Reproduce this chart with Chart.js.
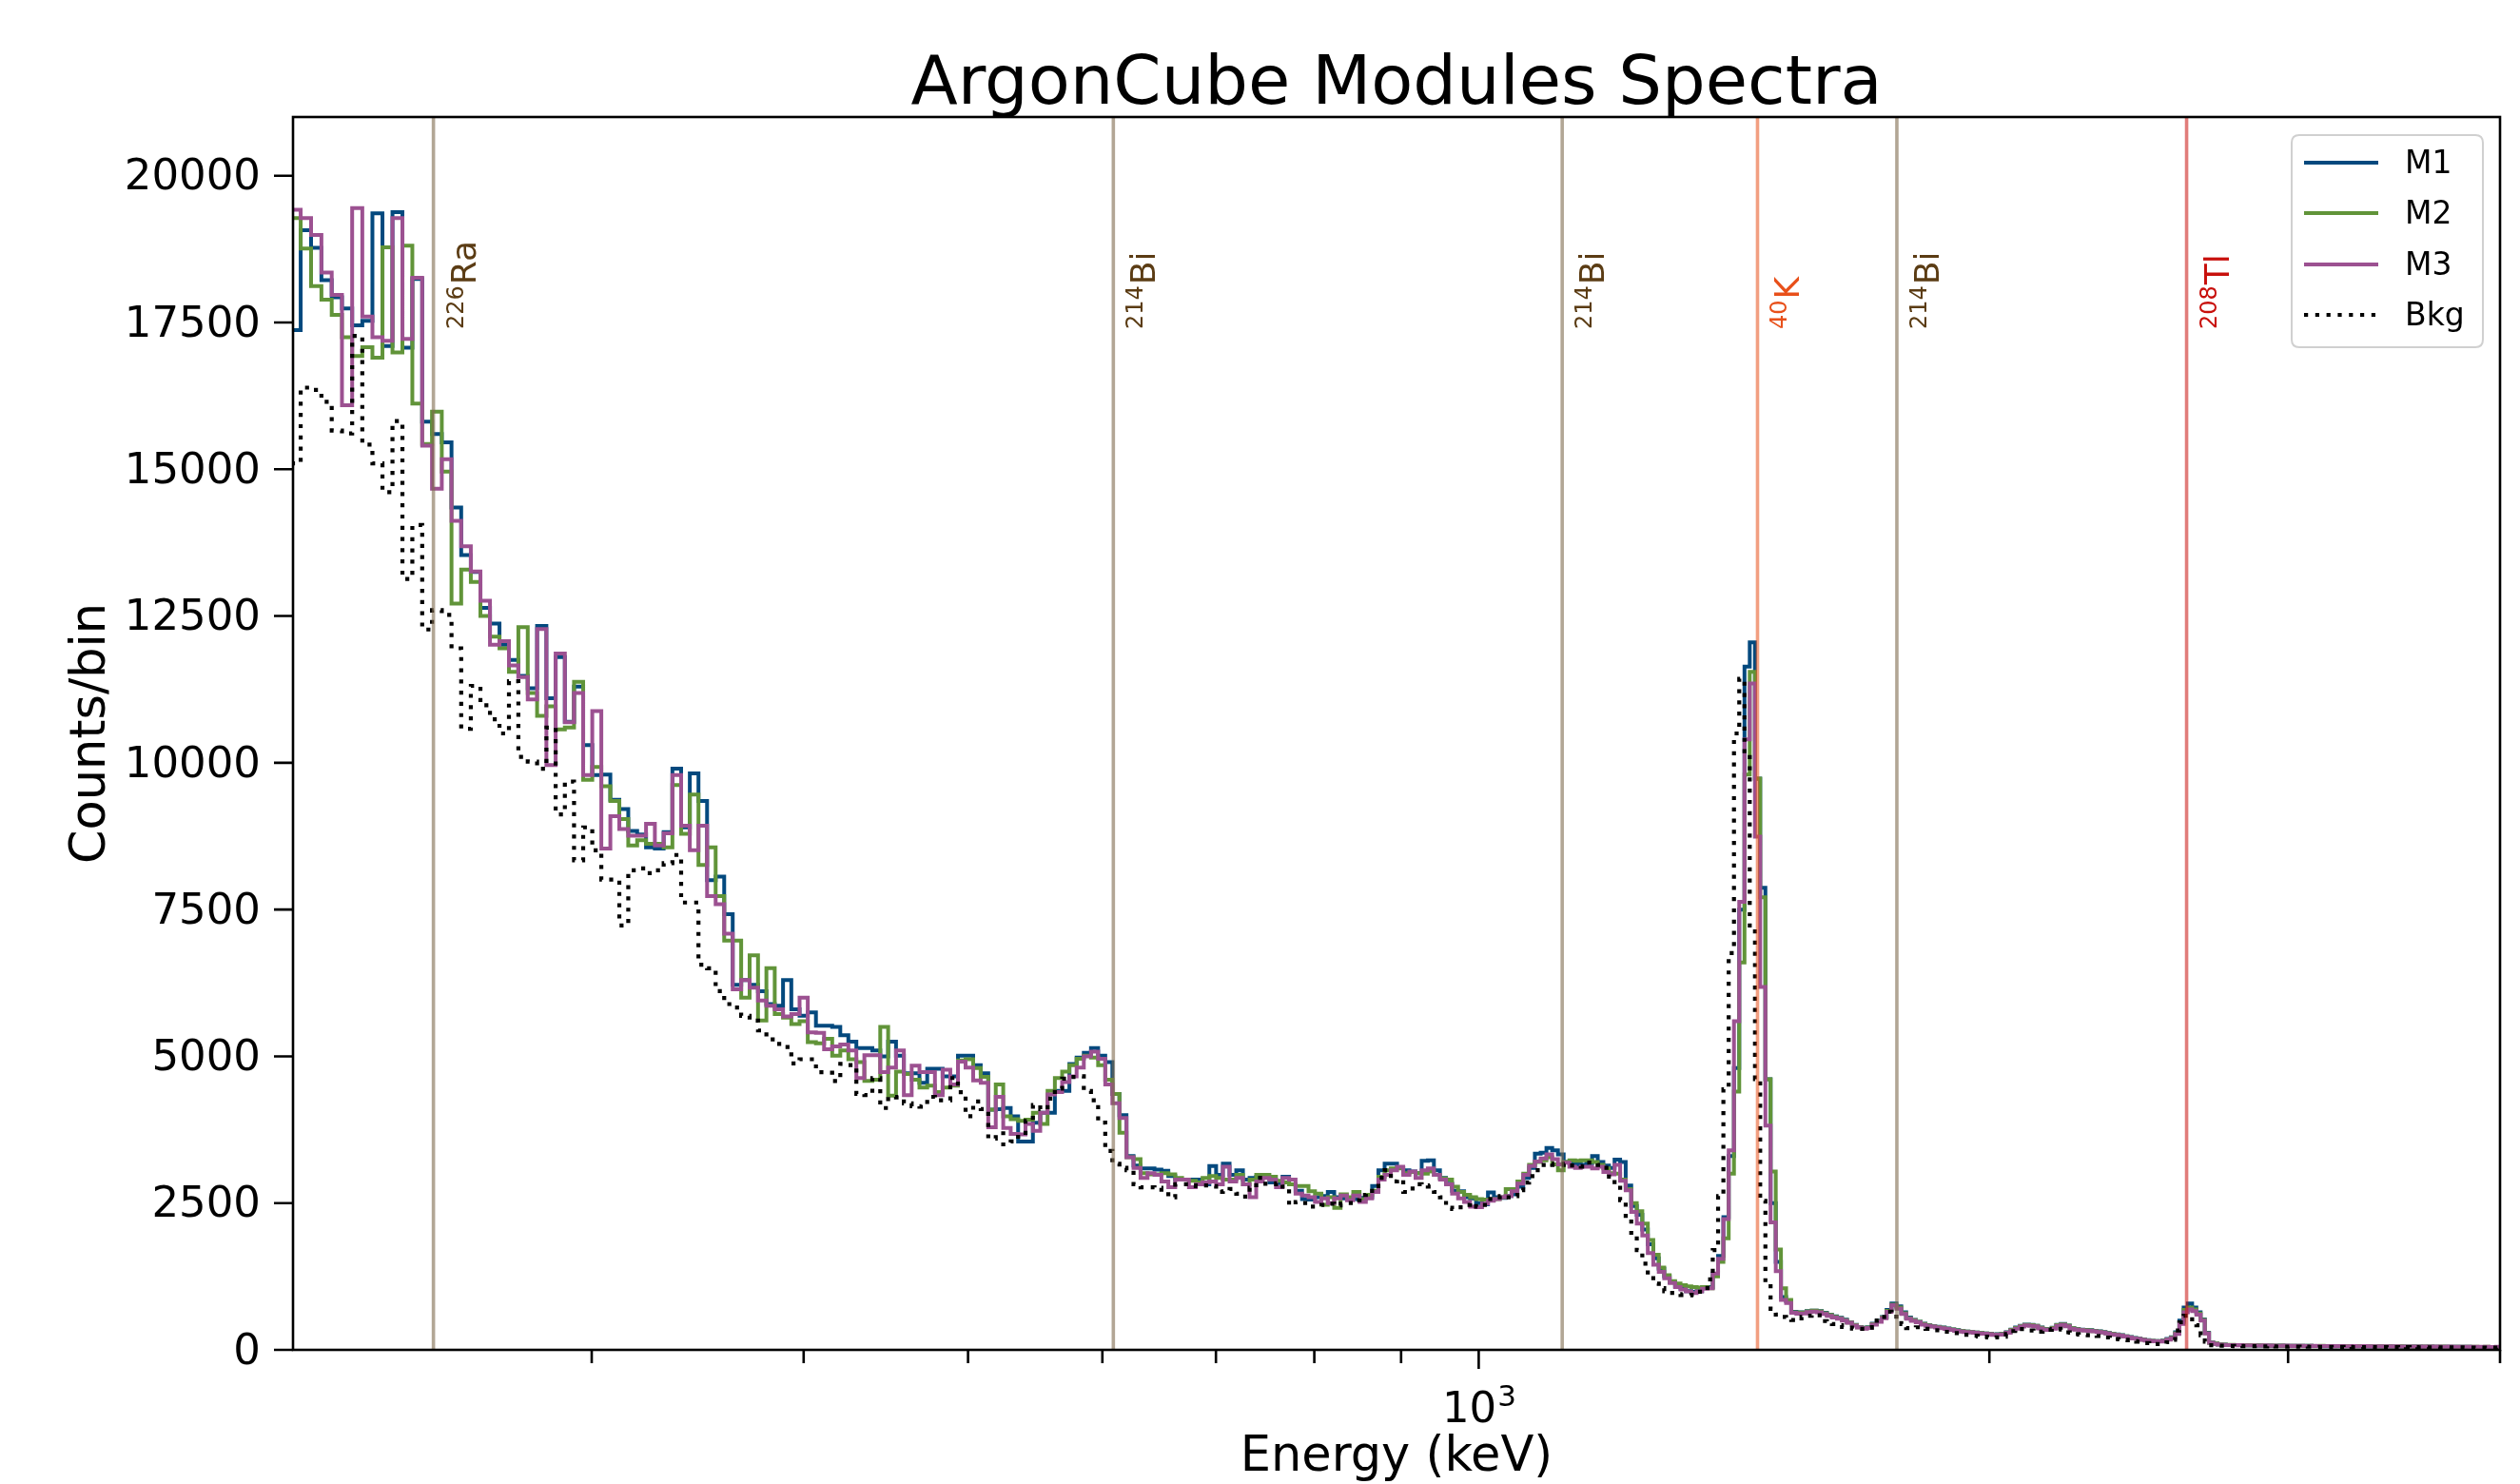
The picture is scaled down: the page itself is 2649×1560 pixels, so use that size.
<!DOCTYPE html>
<html><head><meta charset="utf-8">
<script src="https://cdn.jsdelivr.net/npm/chart.js@4.4.1/dist/chart.umd.min.js"></script>
<style>html,body{margin:0;padding:0;background:#fff;}canvas{display:block;}</style>
</head><body>
<canvas id="c" width="2649" height="1560"></canvas>
<script>
// ---------------- data ----------------
// histogram binning: edges uniform in E^0.35 (keV), as read from the step widths
const binPower = 0.35, binU0 = 6.3795, binDU = 0.031754, nBins = 374;
const xMinKeV = 200, xMaxKeV = 4000;
const yMax = 21000;

const m1Counts = [
19910,17370,19070,18770,18220,17930,17740,17450,17530,19360,17100,19380,17070,18240,15810,15600,15460,14350,13540,13250,12640,12370,12010,11750,11480,
11270,12330,11100,11800,10700,11300,10300,9790,9800,9370,9210,8840,8780,8560,8540,8820,9900,8900,9820,9350,8000,8060,7420,6220,6300,6220,6110,5890,5860,6300,5800,5690,5750,5520,5520,
5500,5360,5250,5140,5140,5100,5000,5250,5010,4710,4710,4550,4790,4790,4660,4660,5010,5010,4850,4710,4090,4100,4120,3980,3550,3550,3870,4040,4040,4410,4410,4870,4980,5060,5140,5010,4900,4360,4000,3300,
3140,3090,3090,3070,3050,2960,2900,2900,2900,2900,2820,3130,2980,3170,2980,3060,2900,2930,2950,2940,2850,2840,2950,2820,2710,2570,2560,2600,2620,2690,2600,2580,2590,2570,2590,2600,2790,3060,3170,3170,3100,3060,3040,3010,3220,3230,3060,2930,2830,2710,2700,2600,2580,2500,2480,
2680,2600,2590,2620,2650,2780,2930,3100,3340,3360,3440,3400,3330,3200,3180,3160,3150,3180,3300,3200,3140,3100,3240,3200,2800,2450,2300,2050,1800,1560,1380,1250,1150,1080,1040,1000,990,1000,1060,
1070,1290,1600,2260,3300,4800,7500,11640,12050,9730,7870,4610,2500,1500,900,830,
650,640,640,660,670,660,630,600,570,545,515,470,425,390,372,385,445,500,560,680,790,740,640,550,510,480,445,420,405,392,380,365,350,335,322,312,305,296,288,280,274,262,268,275,300,345,380,410,430,425,410,380,355,350,375,425,440,415,370,355,345,340,335,325,315,302,288,272,262,250,232,218,202,190,178,165,155,150,146,158,185,215,300,500,720,790,720,640,520,290,125,
105,92,88,83,80,81,79,77,78,75,76,73,72,74,70,69,72,68,67,70,66,68,65,67,63,66,64,62,65,61,63,62,60,64,59,61,60,58,62,57,60,58,56,59,57,55,58,54,56,55,53,56,54,52,55,51,54,52,50,53,51,50,52,49,51,48,50,49,47,50,48,47,49
];
const m2Counts = [
17600,19280,18760,18120,17890,17630,17250,16930,17080,16900,18780,16990,18810,16120,15430,15980,14960,12710,13290,13080,12500,12150,11950,11550,12310,
11190,10800,10960,10570,10600,11380,9710,9930,9600,9350,9040,8590,8680,8620,8620,8560,9620,8790,9460,8260,8560,7730,6970,6970,6000,6720,5610,6500,5720,5660,5550,5600,5240,5220,5300,
5010,5100,4950,4900,4580,4600,5500,4330,4740,4700,4600,4470,4500,4390,4470,4500,4930,4950,4800,4650,4090,4520,3980,3930,3900,3920,4040,3850,4410,4630,4740,4850,4960,5010,4980,4850,4600,4360,3700,3280,
3250,3010,2990,2990,3010,2990,2930,2900,2880,2850,2930,2960,2930,2900,2900,2980,2820,2900,2980,2980,2950,2880,2850,2820,2790,2790,2700,2660,2470,2600,2420,2650,2600,2690,2570,2640,2710,2950,3060,3090,3090,3010,3030,3010,3000,3040,2980,2920,2900,2780,2690,2640,2600,2570,2560,
2560,2570,2600,2740,2740,2870,3000,3150,3200,3230,3280,3160,3060,3200,3230,3220,3230,3230,3200,3150,3090,3010,3000,2900,2740,2500,2360,2150,1870,1620,1400,1270,1170,1130,1100,1080,1070,1060,1070,
1050,1250,1500,1900,3000,4400,6600,9800,11550,9730,7710,4610,3040,1710,1050,850,
640,635,635,655,668,655,625,595,565,540,508,465,420,385,368,380,438,490,552,665,770,720,625,540,505,478,440,418,402,388,376,362,348,332,320,310,302,295,286,279,272,260,265,272,296,340,372,405,425,420,408,376,352,348,372,420,435,412,368,352,342,338,332,322,312,300,285,270,260,247,230,216,200,188,176,163,153,148,144,155,180,208,285,470,680,720,690,620,510,285,122,
110,95,90,86,84,80,82,79,76,79,75,76,73,71,74,70,72,69,70,68,67,70,66,68,65,64,67,63,65,64,62,65,61,63,60,62,64,59,61,60,58,62,57,59,58,56,60,55,57,58,54,57,55,53,56,54,52,55,53,51,54,52,50,53,51,49,52,50,48,51,49,48,50
];
const m3Counts = [
17860,19420,19280,18990,18350,17970,16090,19450,17600,17250,17190,19280,17220,18260,15400,14670,15170,14120,13690,13260,12760,12010,12070,11660,11460,
11080,12280,9960,11860,10690,11190,9790,10880,8540,9090,8870,8760,8760,8960,8590,8800,9790,8930,8510,8930,7730,7590,7090,6140,6300,6170,5950,5860,5800,5680,5720,6000,5410,5400,5120,
5170,5200,5100,4630,5020,5020,4730,4810,5100,4340,4840,4730,4730,4340,4770,4520,4910,4810,4590,4550,3790,4310,3780,3680,3670,3850,3730,4040,4350,4390,4560,4660,4810,5000,5080,4960,4520,4200,3950,3280,
3100,2930,3010,2980,2870,2770,2900,2900,2770,2820,2850,2870,2820,3120,2870,2930,2820,2600,2870,2930,2900,2770,2930,2900,2660,2630,2600,2520,2580,2500,2580,2630,2550,2630,2520,2580,2690,2900,2980,3060,3120,2980,3040,2930,3060,3090,2980,2900,2820,2660,2580,2520,2440,2430,2490,
2540,2570,2600,2620,2700,2830,2980,3130,3210,3260,3330,3250,3160,3190,3120,3100,3120,3120,3090,3120,3030,2990,3150,2880,2720,2350,2150,1950,1650,1450,1330,1220,1140,1070,1030,995,970,995,1040,
1050,1300,1550,2230,3400,5600,7630,10400,11350,8740,6180,3820,2170,1340,850,800,
630,617,620,643,652,640,610,580,551,530,500,460,415,380,362,373,430,480,540,650,760,700,610,530,495,470,430,410,395,380,370,355,340,325,312,305,298,290,281,275,268,255,260,265,290,330,360,395,416,410,400,365,345,340,362,410,425,400,355,345,335,330,325,315,305,295,280,265,255,243,225,212,195,185,172,160,150,145,141,150,175,200,270,440,640,690,660,600,500,280,120,
100,90,85,80,82,78,80,76,75,78,74,72,75,70,72,70,68,71,69,66,68,70,66,64,67,65,63,66,64,62,65,63,60,62,64,61,60,63,60,58,61,59,58,60,57,59,56,58,57,55,58,56,54,57,55,53,56,54,52,55,53,52,54,51,53,50,52,51,49,52,50,49,51
];
const bkgCounts = [
17190,15100,16390,16350,16150,15660,15610,17270,15420,15100,14610,15820,13130,14050,12270,12600,12520,11950,10580,11310,10980,10740,10500,11390,10100,
10020,9900,10600,9120,9680,8340,8900,8510,8010,8010,7230,8170,8200,8120,8170,8290,8430,7620,7620,6560,6500,6110,5890,5830,5690,5610,5440,5290,5210,5160,4880,4950,4950,4730,4720,
4580,4870,4850,4360,4340,4630,4120,4310,4300,4200,4150,4140,4310,4250,4250,4630,4390,3980,4230,4100,3600,3690,3500,3550,3630,3900,4170,4100,4280,4450,4620,4650,4660,4410,4250,3870,3390,3170,3100,3060,
2820,2770,2770,2760,2690,2600,2820,2820,2800,2790,2800,2790,2690,2700,2740,2660,2610,2760,2930,2830,2820,2840,2780,2470,2520,2500,2440,2440,2470,2490,2460,2490,2500,2550,2640,2660,2790,2930,3060,2870,2900,2690,2750,2820,2800,2780,2690,2600,2420,2400,2430,2470,2500,2440,2470,
2570,2600,2620,2600,2620,2720,2850,2960,3060,3150,3170,3150,3150,3170,3140,3130,3120,3190,3190,3150,3100,2950,2800,2550,2230,1950,1700,1470,1260,1130,1050,1000,970,950,935,930,940,990,1000,
1200,1700,2620,4440,6760,10500,11430,10150,7170,4610,2540,1130,700,600,560,530,
510,500,560,580,600,590,490,460,440,420,390,380,362,360,360,380,430,500,560,650,610,500,440,370,375,385,375,360,345,335,325,308,300,285,275,258,254,240,228,225,214,211,215,225,270,320,360,355,350,330,305,310,330,340,355,360,345,300,295,270,260,255,250,245,238,225,211,195,185,178,172,165,150,140,125,115,105,100,100,105,130,170,330,470,580,590,520,420,250,140,80,
75,72,70,66,68,64,66,62,63,61,62,60,59,61,58,57,59,56,57,55,56,54,55,53,54,52,53,51,52,50,51,52,49,50,48,50,49,47,48,49,46,48,47,45,47,46,44,46,45,43,45,44,42,44,43,41,43,42,40,42,41,40,42,39,41,40,38,40,39,38,39,37,38
];

const seriesLabels = ['M1', 'M2', 'M3', 'Bkg'];
const seriesColors = ['#03497e', '#619439', '#9c5191', '#000000'];

const lineEnergiesKeV = [242, 609, 1120, 1460, 1764, 2614];
const lineMassNumbers = ['226', '214', '214', '40', '214', '208'];
const lineElements = ['Ra', 'Bi', 'Bi', 'K', 'Bi', 'Tl'];
const lineColors = ['rgba(127,106,79,0.6)', 'rgba(127,106,79,0.6)', 'rgba(127,106,79,0.6)', 'rgba(232,80,26,0.55)', 'rgba(127,106,79,0.6)', 'rgba(200,16,12,0.55)'];
const lineLabelColors = ['#5b3c14', '#5b3c14', '#5b3c14', '#e8501a', '#5b3c14', '#c8100c'];

const yTickValues = [0, 2500, 5000, 7500, 10000, 12500, 15000, 17500, 20000];
const xTickValues = [300, 400, 500, 600, 700, 800, 900, 1000, 2000, 3000, 4000];
const xMajorTicks = [1000];
const xTickBase = { 1000: ['10', '3'] };   // 10^3

// ---------------- build ----------------
const binEdges = [];
for (let k = 0; k <= nBins; k++) binEdges.push(Math.pow(binU0 + k * binDU, 1 / binPower));

function stepPoints(counts) {
  const pts = counts.map((c, k) => ({ x: binEdges[k], y: c }));
  pts.push({ x: binEdges[counts.length], y: counts[counts.length - 1] });
  return pts;
}
const allCounts = [m1Counts, m2Counts, m3Counts, bkgCounts];
const FONT = "'DejaVu Sans', 'Liberation Sans', sans-serif";
const TARGET = { left: 308, top: 123, right: 2628, bottom: 1419 };

// draw order: Bkg on top, then M3, M2, M1 (dataset index 0 is drawn last)
const datasets = [3, 2, 1, 0].map(i => ({
  label: seriesLabels[i],
  data: stepPoints(allCounts[i]),
  borderColor: seriesColors[i],
  borderWidth: i === 3 ? 4.2 : 4,
  borderDash: i === 3 ? [4.2, 7.6] : [],
  borderCapStyle: 'butt',
  borderJoinStyle: 'miter',
  stepped: 'after',
  pointRadius: 0,
  fill: false,
  tension: 0,
  clip: 0
}));

const decor = {
  id: 'decor',
  beforeDraw(chart) {
    const c = chart.ctx;
    c.save(); c.fillStyle = '#fff'; c.fillRect(0, 0, chart.width, chart.height); c.restore();
  },
  afterDatasetsDraw(chart) {
    const c = chart.ctx, a = chart.chartArea, xs = chart.scales.x;
    c.save();
    lineEnergiesKeV.forEach((e, i) => {
      const px = xs.getPixelForValue(e);
      c.strokeStyle = lineColors[i]; c.lineWidth = 3.6;
      c.beginPath(); c.moveTo(px, a.top); c.lineTo(px, a.bottom); c.stroke();
      c.save();
      c.translate(px + 44, 346);
      c.rotate(-Math.PI / 2);
      c.fillStyle = lineLabelColors[i];
      c.textBaseline = 'alphabetic'; c.textAlign = 'left';
      c.font = '24px ' + FONT;
      c.fillText(lineMassNumbers[i], 0, -13);
      const w = c.measureText(lineMassNumbers[i]).width;
      c.font = '36px ' + FONT;
      c.fillText(lineElements[i], w + 1, 0);
      c.restore();
    });
    c.restore();
  },
  afterDraw(chart) {
    const c = chart.ctx, a = chart.chartArea, xs = chart.scales.x, ys = chart.scales.y;
    c.save();
    c.strokeStyle = '#000'; c.lineWidth = 2.6;
    c.strokeRect(a.left, a.top, a.right - a.left, a.bottom - a.top);
    c.beginPath();
    yTickValues.forEach(v => { const py = ys.getPixelForValue(v); c.moveTo(a.left - 20, py); c.lineTo(a.left, py); });
    xTickValues.forEach(v => {
      const px = xs.getPixelForValue(v); const len = xMajorTicks.includes(v) ? 20 : 14;
      c.moveTo(px, a.bottom); c.lineTo(px, a.bottom + len);
    });
    c.stroke();
    // x major tick labels as base with superscript exponent
    c.fillStyle = '#000'; c.textBaseline = 'alphabetic'; c.textAlign = 'left';
    Object.keys(xTickBase).forEach(k => {
      const [base, exp] = xTickBase[k];
      const px = xs.getPixelForValue(Number(k));
      c.font = '45px ' + FONT; const wb = c.measureText(base).width;
      c.font = '31px ' + FONT; const we = c.measureText(exp).width;
      const x0 = px - (wb + we) / 2;
      c.font = '45px ' + FONT; c.fillText(base, x0, 1495);
      c.font = '31px ' + FONT; c.fillText(exp, x0 + wb + 1, 1478);
    });
    // title
    c.textAlign = 'center';
    c.font = '72px ' + FONT;
    c.fillText('ArgonCube Modules Spectra', (a.left + a.right) / 2, 109);
    c.font = '51px ' + FONT;
    c.fillText('Energy (keV)', (a.left + a.right) / 2, 1546);
    c.save();
    c.translate(110, (a.top + a.bottom) / 2);
    c.rotate(-Math.PI / 2);
    c.fillText('Counts/bin', 0, 0);
    c.restore();
    // legend
    const lx = 2409, ly = 142, lw = 201, lh = 223, r = 8;
    c.beginPath();
    c.moveTo(lx + r, ly); c.lineTo(lx + lw - r, ly); c.quadraticCurveTo(lx + lw, ly, lx + lw, ly + r);
    c.lineTo(lx + lw, ly + lh - r); c.quadraticCurveTo(lx + lw, ly + lh, lx + lw - r, ly + lh);
    c.lineTo(lx + r, ly + lh); c.quadraticCurveTo(lx, ly + lh, lx, ly + lh - r);
    c.lineTo(lx, ly + r); c.quadraticCurveTo(lx, ly, lx + r, ly); c.closePath();
    c.fillStyle = 'rgba(255,255,255,0.85)'; c.fill();
    c.strokeStyle = '#d0d0d0'; c.lineWidth = 2; c.stroke();
    const rows = [171, 224, 278, 331];
    seriesLabels.forEach((lab, i) => {
      c.strokeStyle = seriesColors[i];
      c.lineWidth = i === 3 ? 4.2 : 4;
      c.setLineDash(i === 3 ? [4.2, 7.6] : []);
      c.lineCap = 'butt';
      c.beginPath(); c.moveTo(2422, rows[i]); c.lineTo(2500, rows[i]); c.stroke();
      c.setLineDash([]);
      c.fillStyle = '#000'; c.textAlign = 'left'; c.textBaseline = 'middle';
      c.font = '33px ' + FONT;
      c.fillText(lab, 2528, rows[i] + 2);
    });
    c.restore();
  }
};

const chart = new Chart(document.getElementById('c'), {
  type: 'line',
  data: { datasets },
  options: {
    responsive: false,
    devicePixelRatio: 1,
    animation: false,
    layout: { padding: { left: 0, top: 123, right: 21, bottom: 0 } },
    plugins: { legend: { display: false }, title: { display: false }, tooltip: { enabled: false } },
    scales: {
      x: {
        type: 'logarithmic', min: xMinKeV, max: xMaxKeV,
        grid: { display: false, drawTicks: false }, border: { display: false },
        afterFit: s => { s.height = 141; s.paddingLeft = 0; s.paddingRight = 0; },
        afterBuildTicks: s => { s.ticks = xTickValues.map(v => ({ value: v })); },
        ticks: { autoSkip: false, maxRotation: 0, padding: 0, display: true, font: { family: FONT, size: 45 }, callback: () => '' }
      },
      y: {
        type: 'linear', min: 0, max: yMax,
        grid: { display: false, drawTicks: false }, border: { display: false },
        afterFit: s => { s.width = 308; s.paddingTop = 0; s.paddingBottom = 0; },
        afterBuildTicks: s => { s.ticks = yTickValues.map(v => ({ value: v })); },
        ticks: { autoSkip: false, padding: 34, labelOffset: 3, color: '#000', font: { family: FONT, size: 45 }, callback: v => String(v) }
      }
    }
  },
  plugins: [decor]
});

// make the plot area sit exactly where the reference has it
for (let pass = 0; pass < 2; pass++) {
  const a = chart.chartArea, p = chart.options.layout.padding;
  const np = {
    left: p.left + (TARGET.left - a.left),
    top: p.top + (TARGET.top - a.top),
    right: p.right + (a.right - TARGET.right),
    bottom: p.bottom + (a.bottom - TARGET.bottom)
  };
  if (np.left === p.left && np.top === p.top && np.right === p.right && np.bottom === p.bottom) break;
  chart.options.layout.padding = np;
  chart.update();
}

allCounts.forEach((arr, i) => {
  if (arr.length !== nBins) throw new Error(seriesLabels[i] + ' has ' + arr.length + ' bins, expected ' + nBins);
});
</script>
</body></html>
